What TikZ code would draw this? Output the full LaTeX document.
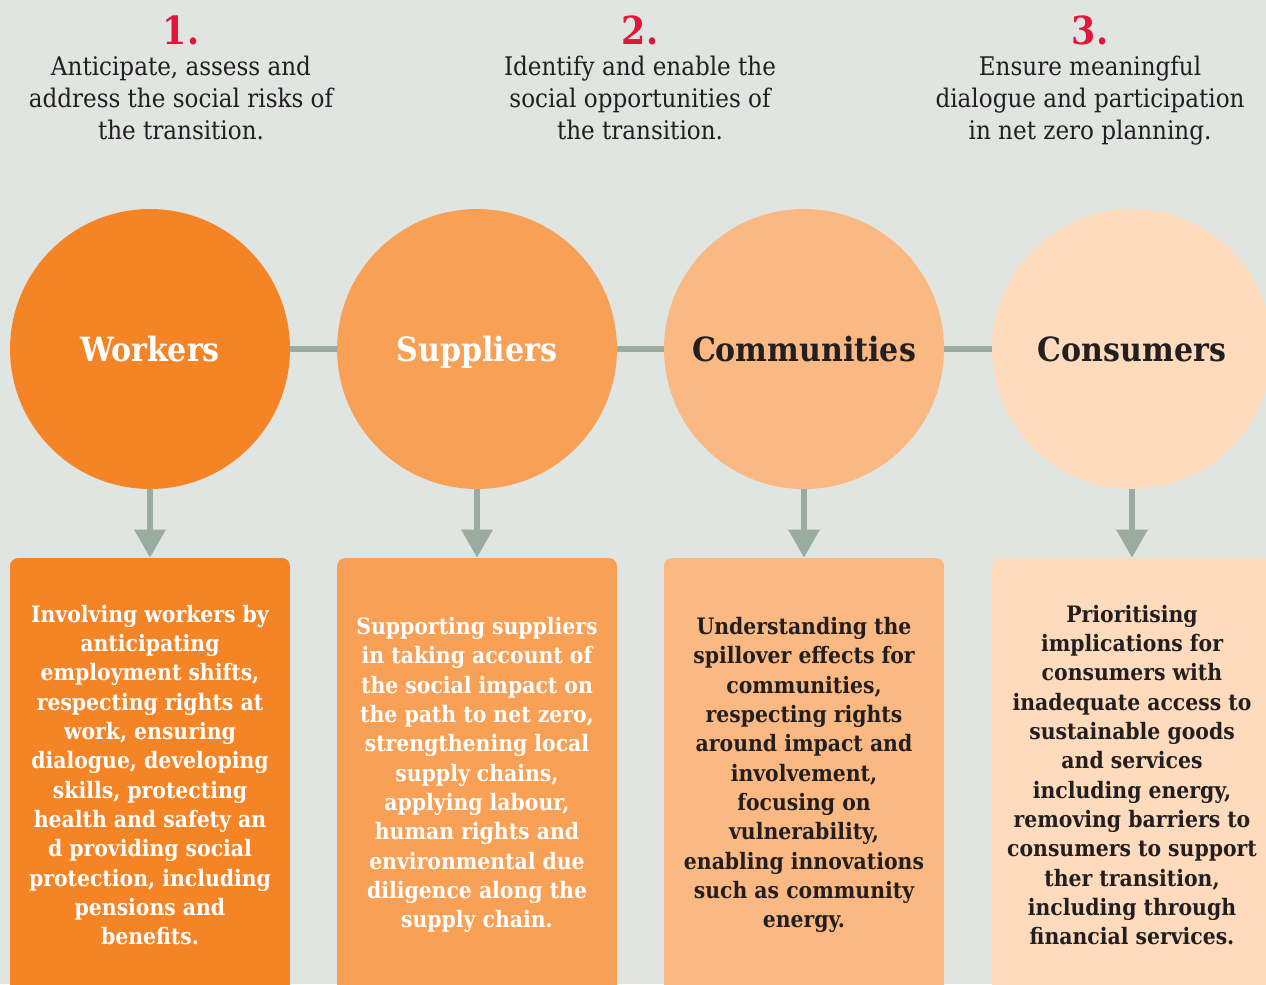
\documentclass[tikz,border=0pt]{standalone}
\usepackage{fontspec}
\setmainfont{DejaVu Serif Condensed}
\usetikzlibrary{arrows.meta}

\definecolor{bg}{HTML}{E0E5E1}
\definecolor{link}{HTML}{9AABA0}
\definecolor{numred}{HTML}{E0163A}
\definecolor{ink}{HTML}{231F20}
\definecolor{oraA}{HTML}{F58426}
\definecolor{oraB}{HTML}{F8A055}
\definecolor{oraC}{HTML}{FAB983}
\definecolor{oraD}{HTML}{FDDBBC}

\begin{document}
\begin{tikzpicture}[x=0.02cm,y=-0.02cm,
	group/.style={circle,minimum size=5.6cm,inner sep=0pt,text height=13.9pt,text depth=0pt,
		font=\bfseries\fontsize{19}{22}\selectfont},
	card/.style={rectangle,rounded corners=0.16cm,minimum width=5.6cm,minimum height=8.68cm,align=center,
		font=\bfseries\fontsize{12.9}{16.7}\selectfont},
	aim/.style={align=center,text=ink,font=\fontsize{14.6}{18.2}\selectfont},
	num/.style={text=numred,font=\bfseries\fontsize{22}{24}\selectfont},
	link/.style={draw=link,line width=0.12cm}]
			\clip (0,0) rectangle (1266,984);
			\fill[bg] (0,0) rectangle (1266,984);
			
			\node[num] (n1) at (181,30)  {1.};
			\node[num] (n2) at (640,30)  {2.};
			\node[num] (n3) at (1090,30) {3.};
			\node[aim] (a1) at (181,98)  {Anticipate, assess and\\address the social risks of\\the transition.};
			\node[aim] (a2) at (640,98)  {Identify and enable the\\social opportunities of\\the transition.};
			\node[aim] (a3) at (1090,101) {Ensure meaningful\\dialogue and participation\\in net zero planning.};
			
			\node[group,fill=oraA,text=white] (w) at (150 ,349) {Workers};
			\node[group,fill=oraB,text=white] (s) at (477 ,349) {Suppliers};
			\node[group,fill=oraC,text=ink]   (c) at (804 ,349) {Communities};
			\node[group,fill=oraD,text=ink]   (k) at (1132,349) {Consumers};
			
			\node[card,fill=oraA,text=white] (wb) at (150 ,775) {Involving workers by\\anticipating\\employment shifts,\\respecting rights at\\work, ensuring\\dialogue, developing\\skills, protecting\\health and safety an\\d providing social\\protection, including\\pensions and\\benefits.};
			\node[card,fill=oraB,text=white] (sb) at (477 ,775) {Supporting suppliers\\in taking account of\\the social impact on\\the path to net zero,\\strengthening local\\supply chains,\\applying labour,\\human rights and\\environmental due\\diligence along the\\supply chain.};
			\node[card,fill=oraC,text=ink]   (cb) at (804 ,775) {Understanding the\\spillover effects for\\communities,\\respecting rights\\around impact and\\involvement,\\focusing on\\vulnerability,\\enabling innovations\\such as community\\energy.};
			\node[card,fill=oraD,text=ink]   (kb) at (1132,775) {Prioritising\\implications for\\consumers with\\inadequate access to\\sustainable goods\\and services\\including energy,\\removing barriers to\\consumers to support\\ther transition,\\including through\\financial services.};
			
			\def\chain {w/s, s/c, c/k}  % line between circles
			\foreach \u\v in \chain
			{	\draw[link] (\u) -- (\v);
			}
			\def\down {w/wb, s/sb, c/cb, k/kb}  % arrow to card
			\foreach \u\v in \down
			{	\draw[link,-{Triangle[width=0.6cm,length=0.56cm]}] (\u) -- (\v);
			}
		\end{tikzpicture}
\end{document}
